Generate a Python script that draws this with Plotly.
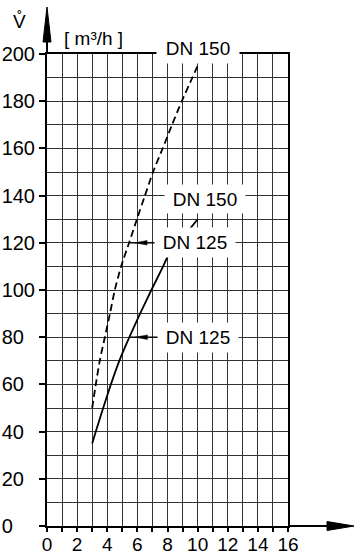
import plotly.graph_objects as go

# Volume flow [m3/h] against the horizontal quantity for both curves
dashed_flow = [50, 60, 70, 80, 90, 100, 110, 120, 130, 140, 150, 160, 170, 180, 190, 195]
dashed_x = [3.0, 3.24, 3.5, 3.84, 4.18, 4.5, 4.92, 5.45, 5.97, 6.5, 7.04, 7.68, 8.3, 8.95, 9.65, 10.0]

solid_flow = [35, 40, 50, 60, 70, 80, 90, 100, 110, 114, 122, 126, 130]
solid_x = [3.0, 3.24, 3.73, 4.24, 4.8, 5.47, 6.18, 6.93, 7.71, 8.0, 9.0, 9.5, 10.0]

x_ticks = [0, 2, 4, 6, 8, 10, 12, 14, 16]
y_ticks = [0, 20, 40, 60, 80, 100, 120, 140, 160, 180, 200]
y_tick_labels = [str(v) for v in y_ticks]

FONT = "Liberation Sans"
INK = "black"
GRID = "#333333"

fig = go.Figure()

fig.add_trace(go.Scatter(
    x=dashed_x, y=dashed_flow, mode="lines",
    line=dict(color=INK, width=1.8, dash="7px,4px", shape="spline", smoothing=0.6),
    hoverinfo="skip", showlegend=False,
))
fig.add_trace(go.Scatter(
    x=solid_x, y=solid_flow, mode="lines",
    line=dict(color=INK, width=1.8, shape="spline", smoothing=0.6),
    hoverinfo="skip", showlegend=False,
))

shapes = []

# Axis arrows, drawn in pixels from the plot corners
shapes.append(dict(type="line", xref="paper", yref="paper", xsizemode="pixel", ysizemode="pixel",
                   xanchor=0, yanchor=1, x0=0, x1=0, y0=0, y1=14,
                   line=dict(color=INK, width=2)))
shapes.append(dict(type="path", xref="paper", yref="paper", xsizemode="pixel", ysizemode="pixel",
                   xanchor=0, yanchor=1, path="M0,47 L-4,12 L4,12 Z",
                   fillcolor=INK, line=dict(color=INK, width=1)))
shapes.append(dict(type="line", xref="paper", yref="paper", xsizemode="pixel", ysizemode="pixel",
                   xanchor=1, yanchor=0, x0=0, x1=41, y0=0, y1=0,
                   line=dict(color=INK, width=2)))
shapes.append(dict(type="path", xref="paper", yref="paper", xsizemode="pixel", ysizemode="pixel",
                   xanchor=1, yanchor=0, path="M66,0 L39,4.5 L39,-4.5 Z",
                   fillcolor=INK, line=dict(color=INK, width=1)))


def pointer(curve_x, curve_flow, flow, label_x):
    """Leader line with a slim wedge from a label towards a curve."""
    cx = curve_x[curve_flow.index(flow)]
    shapes.append(dict(type="line", xref="x", yref="y", x0=cx, x1=label_x, y0=flow, y1=flow,
                       line=dict(color=INK, width=1.2), layer="above"))
    shapes.append(dict(type="path", xref="x", yref="y", xsizemode="pixel", ysizemode="pixel",
                       xanchor=cx, yanchor=flow, path="M6,0 L18,2.3 L18,-2.3 Z",
                       fillcolor=INK, line=dict(color=INK, width=0.5), layer="above"))


pointer(dashed_x, dashed_flow, 120, 9.8)
pointer(solid_x, solid_flow, 80, 10.0)


def label(text, x, y, yshift=0, w=80, h=29):
    return dict(text=text, x=x, y=y, xref="x", yref="y", showarrow=False,
                xanchor="center", yanchor="middle", yshift=yshift, width=w, height=h,
                bgcolor="white", borderpad=0, font=dict(family=FONT, size=19, color=INK))


annotations = [
    label("DN 150", 10.0, 200, yshift=6, w=82, h=30),
    label("DN 150", 10.5, 140, yshift=-3, w=80, h=28),
    label("DN 125", 9.8, 120, w=80, h=29),
    label("DN 125", 10.0, 80, w=80, h=29),
    dict(text="V\u030a", xref="paper", yref="paper", x=0, y=1, xshift=-28, yshift=33,
         showarrow=False, xanchor="center", yanchor="middle",
         font=dict(family=FONT, size=19, color=INK)),
    dict(text="[ m³/h ]", xref="paper", yref="paper", x=0, y=1, xshift=46, yshift=16,
         showarrow=False, xanchor="center", yanchor="middle",
         font=dict(family=FONT, size=19, color=INK)),
]

fig.update_layout(
    width=358, height=554,
    margin=dict(l=47, r=70, t=54, b=28, pad=0),
    paper_bgcolor="white", plot_bgcolor="white",
    shapes=shapes, annotations=annotations,
    font=dict(family=FONT, color=INK),
)

# Major x ticks carry only the labels; the short tick marks come from the minor ticks
fig.update_xaxes(
    range=[0, 16], tickmode="array", tickvals=x_ticks, ticktext=[str(v) for v in x_ticks],
    ticks="outside", ticklen=0, tickwidth=1.5, tickcolor=INK,
    showgrid=True, gridcolor=GRID, gridwidth=1.3,
    minor=dict(tickmode="linear", tick0=0, dtick=1, ticks="outside", ticklen=4,
               tickwidth=1.5, tickcolor=INK, showgrid=True, gridcolor=GRID, gridwidth=1.3),
    showline=True, linecolor=INK, linewidth=2, mirror=True, zeroline=False,
    tickfont=dict(family=FONT, size=19, color=INK), automargin=False,
)
fig.update_yaxes(
    range=[0, 200], tickmode="array", tickvals=y_ticks,
    ticktext=[t.ljust(3, "\u2007") for t in y_tick_labels],
    ticks="outside", ticklen=6, tickwidth=1.5, tickcolor=INK,
    showgrid=True, gridcolor=GRID, gridwidth=1.3,
    minor=dict(tickmode="linear", tick0=0, dtick=10, showgrid=True, gridcolor=GRID, gridwidth=1.3),
    showline=True, linecolor=INK, linewidth=2, mirror=True, zeroline=False,
    tickfont=dict(family=FONT, size=20, color=INK), automargin=False,
)

fig.write_html("out.html")
